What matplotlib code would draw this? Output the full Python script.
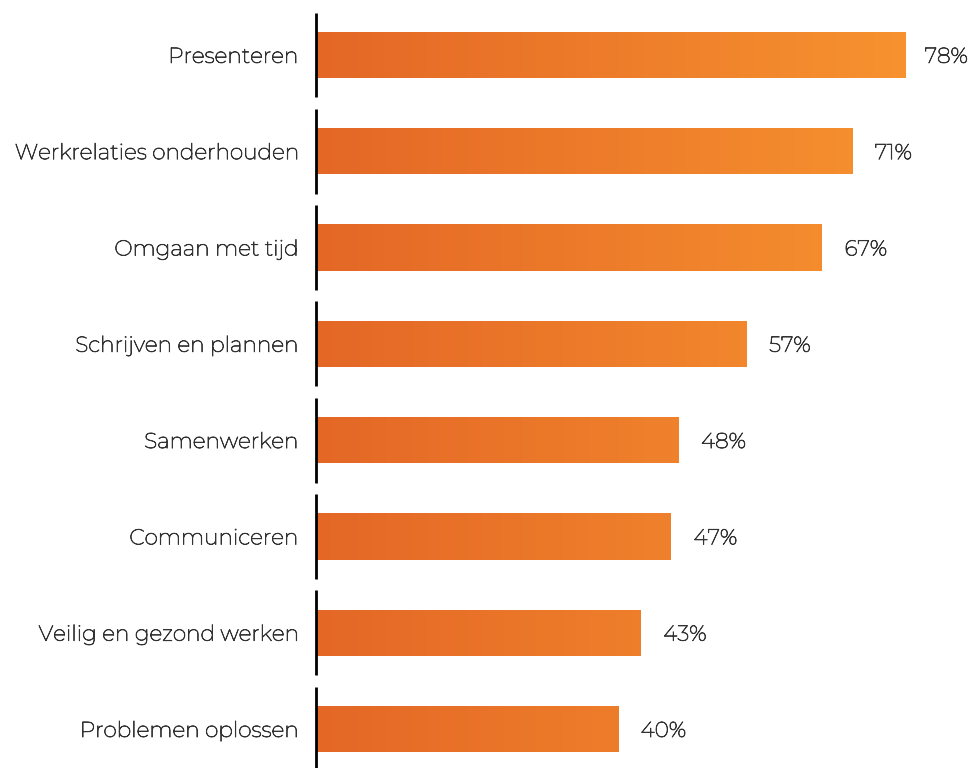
import matplotlib
matplotlib.use("Agg")
import matplotlib.pyplot as plt
import numpy as np
from matplotlib.colors import LinearSegmentedColormap, Normalize
from matplotlib import patheffects as pe

categories = ["Presenteren", "Werkrelaties onderhouden", "Omgaan met tijd",
              "Schrijven en plannen", "Samenwerken", "Communiceren",
              "Veilig en gezond werken", "Problemen oplossen"]
values = [78, 71, 67, 57, 48, 47, 43, 40]
value_labels = ["78%", "71%", "67%", "57%", "48%", "47%", "43%", "40%"]

plt.rcParams['font.family'] = ['Montserrat', 'Inter', 'DejaVu Sans']

fig = plt.figure(figsize=(9.73, 7.68), dpi=100)
ax = fig.add_axes([0, 0, 1, 1])
ax.set_xlim(-41.85, 87.0)
ax.set_ylim(7.404, -0.571)
ax.axis('off')

cmap = LinearSegmentedColormap.from_list("og", ["#E46726", "#F7922F"])
norm = Normalize(0, max(values))
ypos = np.arange(len(categories))
bh = 0.48
bars = ax.barh(ypos, values, height=bh, color="#E96F28", edgecolor="none")
for b, v, y in zip(bars, values, ypos):
    grad = np.linspace(0, v, 256).reshape(1, -1)
    im = ax.imshow(grad, cmap=cmap, norm=norm, aspect='auto',
                   extent=(0, v, y + bh / 2, y - bh / 2), interpolation='bilinear', zorder=2)
    im.set_clip_path(b)

ax.vlines([0] * len(ypos), ypos - 0.441, ypos + 0.441, color="black", lw=2, zorder=3)

txt_col = "#333333"
effects = [pe.withStroke(linewidth=0.55, foreground=txt_col)]
for y, c in zip(ypos, categories):
    ax.text(-2.4, y + 0.015, c, ha='right', va='center', fontsize=15.6, color=txt_col,
            path_effects=effects)
for y, v, l in zip(ypos, values, value_labels):
    ax.text(min(v + 3.0, 80.6), y + 0.015, l, ha='left', va='center', fontsize=15.6, color=txt_col,
            path_effects=effects)

fig.savefig("out.png", dpi=100)
